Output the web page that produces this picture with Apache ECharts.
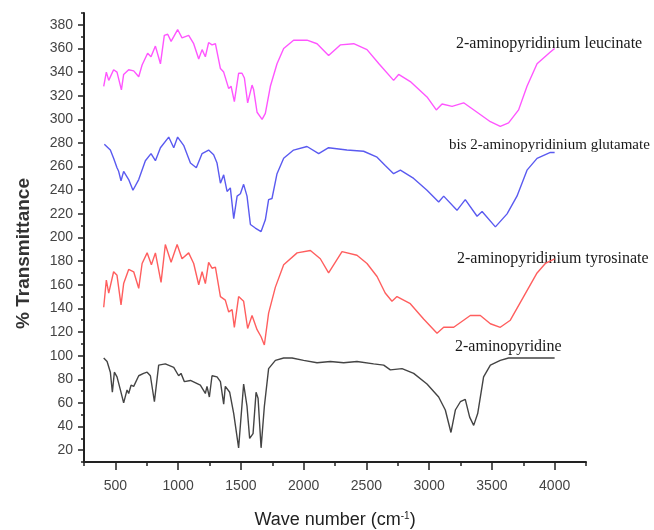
<!DOCTYPE html>
<html>
<head>
<meta charset="utf-8">
<script src="https://cdn.jsdelivr.net/npm/echarts/dist/echarts.min.js"></script>
<style>
  html, body { margin: 0; padding: 0; background: #fff; }
  #chart { width: 654px; height: 530px; }
</style>
</head>
<body>
<div id="chart"></div>
<script>
// wave numbers (cm-1) and % transmittance, one pair per spectrum
const leucWave = [407, 428, 447, 486, 513, 548, 566, 606, 646, 686, 713, 757, 784, 819, 859, 890, 917, 944, 965, 996, 1031, 1084, 1124, 1164, 1191, 1217, 1243, 1270, 1297, 1337, 1363, 1403, 1422, 1448, 1482, 1509, 1528, 1554, 1589, 1602, 1629, 1669, 1695, 1735, 1788, 1841, 1920, 2027, 2107, 2199, 2292, 2399, 2505, 2600, 2717, 2757, 2850, 2983, 3057, 3103, 3183, 3275, 3382, 3488, 3567, 3633, 3713, 3780, 3860, 3966, 4000];
const leucT = [328, 340, 333, 342, 340, 325, 338, 342, 341, 336, 346, 356, 353, 362, 347, 371, 372, 366, 370, 376, 369, 371, 364, 351, 359, 353, 365, 363, 364, 343, 340, 326, 328, 315, 339, 339, 335, 314, 329, 325, 306, 300, 305, 328, 347, 360, 367, 367, 364, 354, 363, 364, 359, 347, 333, 338, 332, 319, 308, 313, 311, 314, 306, 298, 294, 297, 308, 328, 347, 357, 360];

const gluWave = [412, 460, 486, 513, 526, 545, 566, 606, 640, 686, 739, 784, 819, 859, 925, 965, 996, 1044, 1098, 1145, 1191, 1243, 1283, 1310, 1337, 1363, 1390, 1416, 1443, 1470, 1496, 1522, 1549, 1576, 1615, 1661, 1695, 1721, 1748, 1788, 1841, 1920, 2027, 2120, 2199, 2345, 2478, 2585, 2650, 2717, 2771, 2877, 2983, 3076, 3116, 3222, 3288, 3382, 3422, 3528, 3621, 3700, 3780, 3860, 3966, 4000];
const gluT = [279, 274, 267, 259, 256, 248, 256, 249, 240, 249, 265, 271, 265, 276, 285, 276, 285, 278, 263, 259, 271, 274, 270, 263, 246, 253, 239, 242, 216, 235, 237, 245, 235, 211, 208, 205, 215, 232, 233, 254, 267, 274, 277, 271, 276, 274, 273, 268, 261, 254, 257, 250, 240, 230, 235, 223, 232, 218, 222, 209, 220, 235, 257, 267, 272, 272];

const tyrWave = [407, 428, 447, 486, 513, 545, 566, 606, 646, 686, 713, 753, 787, 819, 864, 898, 944, 992, 1031, 1084, 1124, 1164, 1191, 1217, 1243, 1270, 1297, 1337, 1376, 1403, 1430, 1448, 1482, 1522, 1554, 1589, 1629, 1661, 1687, 1721, 1775, 1841, 1948, 2054, 2133, 2199, 2306, 2425, 2505, 2585, 2650, 2704, 2744, 2850, 2956, 3063, 3116, 3196, 3328, 3408, 3488, 3567, 3647, 3753, 3860, 3926, 4000];
const tyrT = [141, 164, 153, 171, 168, 143, 161, 173, 171, 157, 178, 187, 177, 187, 162, 194, 179, 194, 182, 187, 178, 160, 171, 161, 179, 174, 175, 150, 147, 137, 139, 124, 150, 146, 123, 134, 122, 116, 109, 136, 158, 177, 187, 189, 182, 170, 188, 185, 178, 167, 153, 146, 150, 144, 131, 119, 124, 124, 134, 134, 127, 124, 130, 150, 170, 178, 182];

const apWave = [407, 434, 460, 476, 492, 513, 540, 566, 593, 606, 625, 646, 686, 725, 753, 779, 811, 845, 898, 965, 1004, 1023, 1050, 1098, 1177, 1217, 1230, 1249, 1270, 1310, 1337, 1363, 1376, 1411, 1443, 1482, 1522, 1549, 1570, 1597, 1621, 1637, 1661, 1687, 1721, 1775, 1841, 1908, 2000, 2107, 2213, 2319, 2425, 2558, 2638, 2691, 2784, 2877, 2983, 3076, 3129, 3174, 3209, 3249, 3288, 3323, 3355, 3387, 3434, 3488, 3567, 3633, 3806, 4000];
const apT = [98, 95, 86, 69, 86, 82, 71, 60, 71, 68, 75, 74, 83, 85, 86, 83, 61, 92, 93, 90, 83, 85, 78, 79, 75, 68, 74, 65, 83, 82, 78, 59, 74, 69, 51, 22, 76, 57, 30, 34, 69, 64, 22, 57, 89, 96, 98, 98, 96, 94, 95, 94, 95, 93, 92, 88, 89, 85, 76, 65, 54, 35, 54, 61, 63, 48, 41, 51, 82, 92, 96, 98, 98, 98];

const seriesNames = ['2-aminopyridinium leucinate', 'bis 2-aminopyridinium glutamate', '2-aminopyridinium tyrosinate', '2-aminopyridine'];

// ticks: labelled major ones and the small ones in between
const xMajor = [500, 1000, 1500, 2000, 2500, 3000, 3500, 4000];
const yMajor = [20, 40, 60, 80, 100, 120, 140, 160, 180, 200, 220, 240, 260, 280, 300, 320, 340, 360, 380];

function zip(xs, ys) {
    return xs.map((x, i) => [x, ys[i]]);
}

const chart = echarts.init(document.getElementById('chart'));

function spectrum(name, data, color) {
    return {
        name: name,
        type: 'line',
        data: data,
        symbol: 'none',
        smooth: false,
        lineStyle: { color: color, width: 1.4 },
        itemStyle: { color: color }
    };
}

const sans = '"Liberation Sans", Arial, sans-serif';
const labelFont = '"Liberation Serif", "Times New Roman", serif';

chart.setOption({
    animation: false,
    backgroundColor: '#ffffff',
    grid: { left: 84, right: 68, top: 13, bottom: 68, outerBoundsMode: 'none', containLabel: false },
    xAxis: [{
        type: 'value',
        min: 250,
        max: 4250,
        interval: 250,
        name: 'Wave number (cm{sup|-1})',
        nameLocation: 'middle',
        nameGap: 49,
        nameTextStyle: {
            fontFamily: sans,
            fontSize: 18,
            color: '#222',
            rich: { sup: { fontSize: 10, verticalAlign: 'top', padding: [0, 0, 9, 0], color: '#222' } }
        },
        axisLine: { lineStyle: { color: '#222', width: 2 } },
        axisTick: { length: 4, lineStyle: { color: '#222', width: 1.5 } },
        axisLabel: {
            margin: 17,
            fontFamily: sans,
            fontSize: 14,
            color: '#444',
            customValues: xMajor,
            formatter: v => String(v)
        },
        splitLine: { show: false }
    }, {
        type: 'value',
        position: 'bottom',
        min: 250,
        max: 4250,
        axisLine: { show: false },
        axisTick: { show: true, length: 8, customValues: xMajor, lineStyle: { color: '#222', width: 1.5 } },
        axisLabel: { show: false },
        splitLine: { show: false }
    }],
    yAxis: [{
        type: 'value',
        min: 10,
        max: 390,
        interval: 10,
        name: '% Transmittance',
        nameLocation: 'middle',
        nameGap: 51,
        nameTextStyle: {
            fontFamily: sans,
            fontSize: 19,
            fontWeight: 'bold',
            color: '#333',
            padding: [0, 32, 0, 0]
        },
        axisLine: { show: true, lineStyle: { color: '#222', width: 2 } },
        axisTick: { show: true, length: 3, lineStyle: { color: '#222', width: 1.5 } },
        axisLabel: {
            margin: 11,
            fontFamily: sans,
            fontSize: 14,
            color: '#444',
            customValues: yMajor,
            formatter: v => String(v)
        },
        splitLine: { show: false }
    }, {
        type: 'value',
        position: 'left',
        min: 10,
        max: 390,
        axisLine: { show: false },
        axisTick: { show: true, length: 6, customValues: yMajor, lineStyle: { color: '#222', width: 1.5 } },
        axisLabel: { show: false },
        splitLine: { show: false }
    }],
    graphic: [
        { type: 'text', left: 456, top: 36, style: { text: seriesNames[0], font: '16px ' + labelFont, fill: '#1a1a1a' } },
        { type: 'text', left: 449, top: 138, style: { text: seriesNames[1], font: '15px ' + labelFont, fill: '#1a1a1a' } },
        { type: 'text', left: 457, top: 251, style: { text: seriesNames[2], font: '16px ' + labelFont, fill: '#1a1a1a' } },
        { type: 'text', left: 455, top: 339, style: { text: seriesNames[3], font: '16px ' + labelFont, fill: '#1a1a1a' } }
    ],
    series: [
        spectrum(seriesNames[0], zip(leucWave, leucT), '#ff55ff'),
        spectrum(seriesNames[1], zip(gluWave, gluT), '#5a5af0'),
        spectrum(seriesNames[2], zip(tyrWave, tyrT), '#ff5e5e'),
        spectrum(seriesNames[3], zip(apWave, apT), '#444444')
    ]
});
</script>
</body>
</html>
